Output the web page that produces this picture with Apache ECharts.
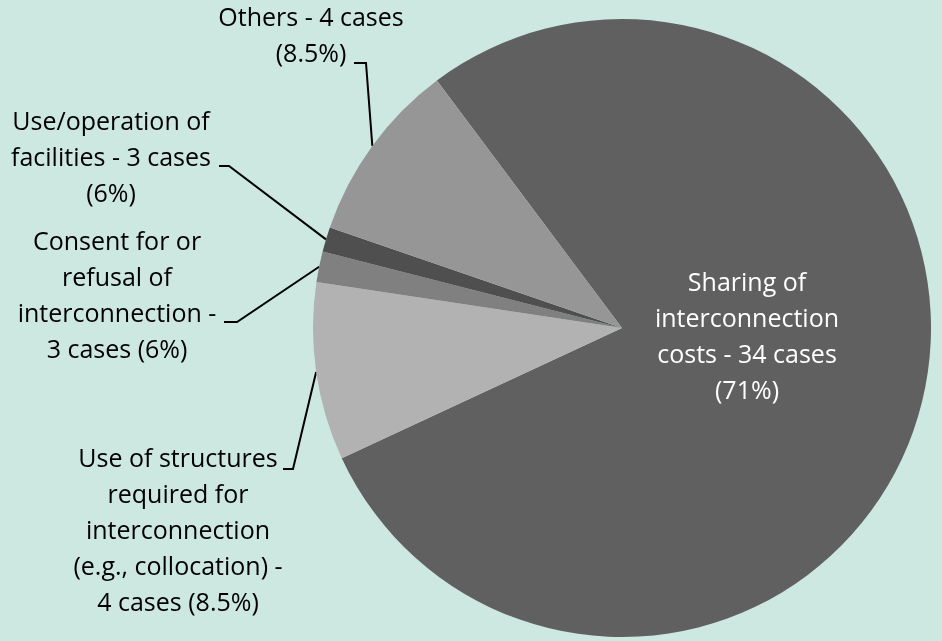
<!DOCTYPE html>
<html>
<head>
<meta charset="utf-8">
<script src="https://cdn.jsdelivr.net/npm/echarts@6/dist/echarts.min.js"></script>
<style>
  html, body { margin: 0; padding: 0; background: #cde8e0; }
  #chart { width: 942px; height: 641px; }
</style>
</head>
<body>
<div id="chart"></div>
<script>
// categories, in drawing order (clockwise from the top-left edge of the big slice)
var categories = [
  'Sharing of interconnection costs',
  'Use of structures required for interconnection (e.g., collocation)',
  'Consent for or refusal of interconnection',
  'Use/operation of facilities',
  'Others'
];
// slice sizes as drawn (share of the circle, %)
var sliceShares = [78.3, 9.3, 1.6, 1.3, 9.5];
// case counts and percentages printed in the labels
var caseCounts = [34, 4, 3, 3, 4];
var casePercents = ['71%', '8.5%', '6%', '6%', '8.5%'];
// label text, broken into lines as in the original
var labelLines = [
  ['Sharing of', 'interconnection', 'costs - {n} cases', '({p})'],
  ['Use of structures', 'required for', 'interconnection', '(e.g., collocation) -', '{n} cases ({p})'],
  ['Consent for or', 'refusal of', 'interconnection -', '{n} cases ({p})'],
  ['Use/operation of', 'facilities - {n} cases', '({p})'],
  ['Others - {n} cases', '({p})']
];
var sliceColors = ['#606060', '#b2b2b2', '#808080', '#4f4f4f', '#969696'];

// where each label sits, and where its leader line meets it
var labelPlaces = [
  { x: 747, y: 338 },
  { x: 178, y: 532, ax: 283, ay: 469, bend: 10 },
  { x: 117, y: 297, ax: 224, ay: 322, bend: 13 },
  { x: 111, y: 159, ax: 219, ay: 166, bend: 10 },
  { x: 311, y: 37, ax: 354, ay: 63, bend: 12 }
];

function labelText(i) {
  return labelLines[i].map(function (s) {
    return s.replace('{n}', caseCounts[i]).replace('{p}', casePercents[i]);
  }).join('\n');
}

var pieData = categories.map(function (name, i) {
  return {
    name: name,
    value: sliceShares[i],
    itemStyle: { color: sliceColors[i] },
    label: { color: i === 0 ? '#ffffff' : '#000000' },
    labelLine: { show: i !== 0 }
  };
});

var myChart = echarts.init(document.getElementById('chart'));

var option = {
  backgroundColor: '#cde8e0',
  animation: false,
  series: [{
    type: 'pie',
    center: [622, 328],
    radius: 309,
    startAngle: 126.8,
    clockwise: true,
    avoidLabelOverlap: false,
    emphasis: { disabled: true },
    data: pieData,
    label: {
      show: true,
      position: 'outside',
      fontFamily: 'Open Sans',
      fontSize: 25,
      lineHeight: 36,
      align: 'center',
      formatter: function (p) { return labelText(p.dataIndex); }
    },
    labelLine: {
      show: true,
      lineStyle: { color: '#000000', width: 2 }
    },
    labelLayout: function (params) {
      var pl = labelPlaces[params.dataIndex];
      var out = { x: pl.x, y: pl.y, align: 'center', verticalAlign: 'middle' };
      if (pl.ax != null && params.labelLinePoints) {
        out.labelLinePoints = [
          params.labelLinePoints[0],
          [pl.ax + pl.bend, pl.ay],
          [pl.ax, pl.ay]
        ];
      }
      return out;
    }
  }]
};

myChart.setOption(option);
</script>
</body>
</html>
